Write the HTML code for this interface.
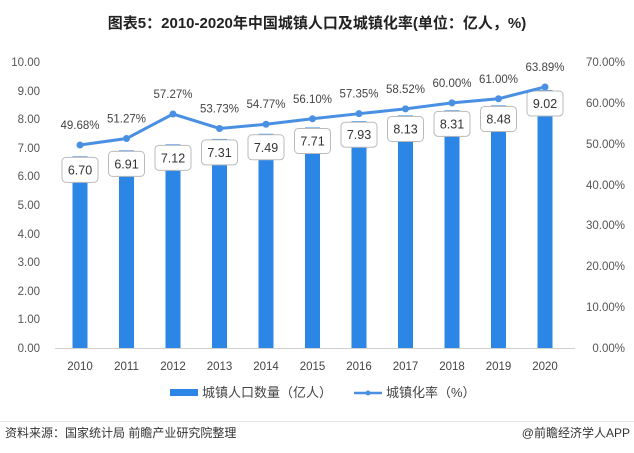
<!DOCTYPE html><html><head><meta charset="utf-8"><style>body{margin:0;background:#fff}svg{display:block;font-family:"Liberation Sans","Noto Sans CJK SC",sans-serif}</style></head><body>
<svg width="634" height="453" viewBox="0 0 634 453" xmlns="http://www.w3.org/2000/svg">
<text x="317" y="28" text-anchor="middle" font-size="15" font-weight="bold" fill="#222">图表5：2010-2020年中国城镇人口及城镇化率(单位：亿人，%)</text>
<g font-size="11.5" fill="#555" text-anchor="end">
<text x="40" y="66">10.00</text><text x="40" y="95">9.00</text><text x="40" y="123">8.00</text><text x="40" y="152">7.00</text><text x="40" y="180">6.00</text><text x="40" y="209">5.00</text><text x="40" y="238">4.00</text><text x="40" y="266">3.00</text><text x="40" y="295">2.00</text><text x="40" y="323">1.00</text><text x="40" y="352">0.00</text></g>
<g font-size="11.5" fill="#555" text-anchor="end">
<text x="625" y="66">70.00%</text><text x="625" y="107">60.00%</text><text x="625" y="148">50.00%</text><text x="625" y="189">40.00%</text><text x="625" y="229">30.00%</text><text x="625" y="270">20.00%</text><text x="625" y="311">10.00%</text><text x="625" y="352">0.00%</text></g>
<line x1="55" y1="348.5" x2="575" y2="348.5" stroke="#d0d0d0"/>
<g id="bars" fill="#2b86e6"></g>
<g id="boxes" font-size="12.5" fill="#333" text-anchor="middle"></g>
<polyline id="ln" fill="none" stroke="#4a90e2" stroke-width="3"/>
<g id="pts" fill="#4a90e2"></g>
<g id="pl" font-size="11.5" fill="#444" text-anchor="middle"></g>
<g font-size="11.5" fill="#444" text-anchor="middle" id="xl"></g>
<rect x="170" y="389" width="28" height="7" fill="#2b86e6"/>
<text x="202" y="397" font-size="13" fill="#444">城镇人口数量（亿人）</text>
<line x1="354" y1="393" x2="382" y2="393" stroke="#4a90e2" stroke-width="2.5"/><circle cx="368" cy="393" r="2.5" fill="#4a90e2"/>
<text x="386" y="397" font-size="13" fill="#444">城镇化率（%）</text>
<line x1="0" y1="421.5" x2="634" y2="421.5" stroke="#e5e5e5"/>
<text x="5" y="437" font-size="12" fill="#333">资料来源：国家统计局 前瞻产业研究院整理</text>
<text x="630" y="437" font-size="12" fill="#333" text-anchor="end">@前瞻经济学人APP</text>
</svg>
<script>
var v=[6.70,6.91,7.12,7.31,7.49,7.71,7.93,8.13,8.31,8.48,9.02],p=[49.68,51.27,57.27,53.73,54.77,56.10,57.35,58.52,60.00,61.00,63.89];
var ns="http://www.w3.org/2000/svg";function el(t,a,par,tx){var e=document.createElementNS(ns,t);for(var k in a)e.setAttribute(k,a[k]);if(tx)e.textContent=tx;document.getElementById(par).appendChild(e);return e;}
var pts=[];
for(var i=0;i<11;i++){var x=80+i*46.5,yt=348-v[i]*28.6,yp=348-p[i]/70*286;
el('rect',{x:x-7.5,y:yt,width:15,height:348-yt},'bars');
el('rect',{x:x-18,y:yt+1,width:36,height:25,rx:4,fill:'#fff',stroke:'#bbb'},'boxes');
el('text',{x:x,y:yt+18},'boxes',v[i].toFixed(2));
pts.push(x+','+yp);el('circle',{cx:x,cy:yp,r:3.5},'pts');
el('text',{x:x,y:yp-16},'pl',p[i].toFixed(2)+'%');
el('text',{x:x,y:370},'xl',String(2010+i));}
document.getElementById('ln').setAttribute('points',pts.join(' '));
</script>
</body></html>
